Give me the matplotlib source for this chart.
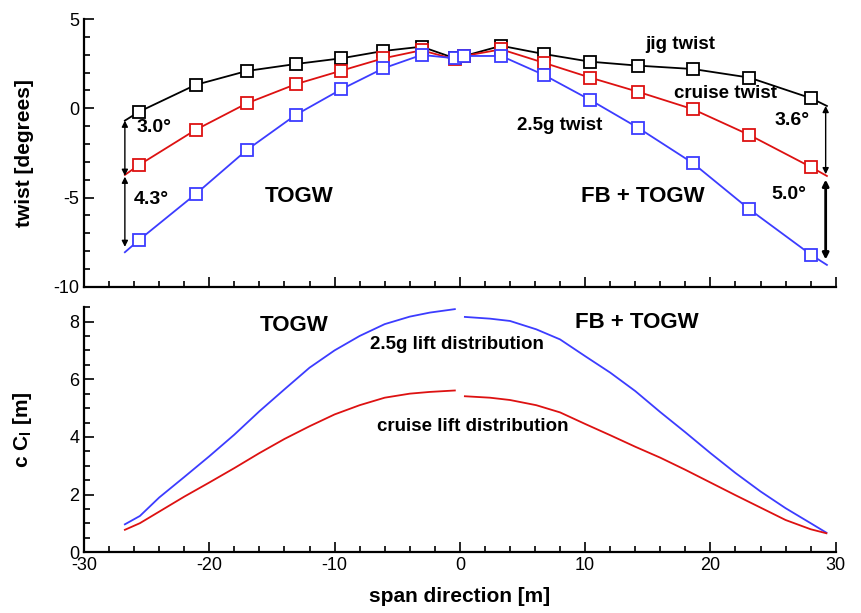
"""
Twist and lift distributions along the span (TOGW vs FB + TOGW).
"""

import numpy as np
import matplotlib.pyplot as plt
from matplotlib.ticker import MultipleLocator

plt.rcParams['font.family'] = ['Liberation Sans', 'DejaVu Sans']
plt.rcParams['axes.unicode_minus'] = False

# Twist at the stations (degrees), left wing = TOGW, right wing = FB + TOGW
span_st = [-26.74, -25.6, -21.1, -17.0, -13.1, -9.45, -6.1, -3.05, -0.4, 0.35,
           3.3, 6.7, 10.4, 14.2, 18.6, 23.1, 28.05, 29.3]
jig_twist = [-0.69, -0.19, 1.31, 2.09, 2.48, 2.80, 3.21, 3.45, 2.80, 2.93,
             3.50, 3.04, 2.61, 2.39, 2.20, 1.72, 0.56, 0.13]
cruise_twist = [-3.73, -3.17, -1.21, 0.28, 1.35, 2.11, 2.80, 3.25, 2.74, 2.93,
                3.30, 2.55, 1.72, 0.93, -0.05, -1.49, -3.30, -3.79]
g25_twist = [-8.06, -7.37, -4.81, -2.33, -0.37, 1.07, 2.24, 2.99, 2.80, 2.93,
             2.93, 1.87, 0.47, -1.08, -3.07, -5.65, -8.21, -8.77]

# Span loading c*Cl [m], left and right halves
span_l = [-26.74, -25.54, -24.0, -22.0, -20.0, -18.0, -16.0, -14.0, -12.0, -10.0,
          -8.0, -6.0, -4.0, -2.4, -0.4]
lift25_l = [0.97, 1.26, 1.90, 2.61, 3.33, 4.08, 4.89, 5.65, 6.40, 7.00,
            7.50, 7.91, 8.17, 8.31, 8.43]
cruise_l = [0.78, 1.01, 1.41, 1.93, 2.42, 2.92, 3.44, 3.93, 4.37, 4.78,
            5.10, 5.36, 5.50, 5.56, 5.61]
span_r = [0.4, 2.4, 4.0, 6.1, 8.0, 10.0, 12.0, 14.0, 16.0, 18.0, 20.0, 22.0,
          24.0, 26.0, 28.0, 29.26]
lift25_r = [8.16, 8.10, 8.02, 7.73, 7.38, 6.80, 6.23, 5.59, 4.86, 4.16, 3.44,
            2.75, 2.11, 1.53, 1.01, 0.68]
cruise_r = [5.41, 5.36, 5.28, 5.10, 4.85, 4.45, 4.06, 3.66, 3.28, 2.86, 2.42,
            1.98, 1.55, 1.12, 0.80, 0.66]

RED = '#dd1111'
BLUE = '#3c3cff'


def style_axis(ax, xmin, xmax, ymin, ymax, ymajor, yminor):
    for side in ['top', 'right']:
        ax.spines[side].set_visible(False)
    for side in ['left', 'bottom']:
        ax.spines[side].set_linewidth(1.6)
    ax.set_xlim(xmin, xmax)
    ax.set_ylim(ymin, ymax)
    ax.xaxis.set_major_locator(MultipleLocator(10))
    ax.xaxis.set_minor_locator(MultipleLocator(2))
    ax.yaxis.set_major_locator(MultipleLocator(ymajor))
    ax.yaxis.set_minor_locator(MultipleLocator(yminor))
    ax.tick_params(which='both', direction='in', labelsize=13, width=1.2)
    ax.tick_params(which='major', length=7)
    ax.tick_params(which='minor', length=4)


fig = plt.figure(figsize=(8.61, 6.13), dpi=100)
ax1 = fig.add_axes([0.0976, 0.532, 0.873, 0.437])
ax2 = fig.add_axes([0.0976, 0.099, 0.873, 0.40])

# Top panel: twist
n = len(span_st)
mk = list(range(1, n - 1))
for vals, col in [(jig_twist, 'black'), (cruise_twist, RED), (g25_twist, BLUE)]:
    ax1.plot(span_st, vals, color=col, lw=1.3, marker='s', markevery=mk,
             ms=8.5, mfc='white', mec=col, mew=1.3)

style_axis(ax1, -30, 30, -10, 5, 5, 1)
ax1.tick_params(axis='x', labelbottom=False)
ax1.set_ylabel('twist [degrees]', fontsize=15, fontweight='bold')
ax1.yaxis.set_label_coords(-0.066, 0.5)

# Delta arrows at the wing tips
arrow = dict(arrowstyle='<|-|>', color='black', lw=1.0, mutation_scale=9,
             shrinkA=0, shrinkB=0)
ax1.annotate('', xy=(span_st[0], jig_twist[0]), xytext=(span_st[0], cruise_twist[0] - 0.05),
             arrowprops=arrow)
ax1.annotate('', xy=(span_st[0], cruise_twist[0] - 0.1), xytext=(span_st[0], g25_twist[0] + 0.3),
             arrowprops=arrow)
ax1.annotate('', xy=(span_st[-1] - 0.1, jig_twist[-1]), xytext=(span_st[-1] - 0.1, cruise_twist[-1] + 0.1),
             arrowprops=arrow)
ax1.annotate('', xy=(span_st[-1] - 0.1, cruise_twist[-1] - 0.2), xytext=(span_st[-1] - 0.1, g25_twist[-1] + 0.3),
             arrowprops=dict(arrow, lw=2.0))

lbl = dict(fontsize=14, fontweight='bold', ha='left', va='center')
ax1.text(-25.8, -1.05, '3.0\u00b0', **lbl)
ax1.text(-26.0, -5.1, '4.3\u00b0', **lbl)
ax1.text(25.1, -0.7, '3.6\u00b0', **lbl)
ax1.text(24.9, -4.8, '5.0\u00b0', **lbl)

ax1.text(-12.8, -4.95, 'TOGW', fontsize=16, fontweight='bold', ha='center', va='center')
ax1.text(14.6, -4.95, 'FB + TOGW', fontsize=16, fontweight='bold', ha='center', va='center')
ax1.text(17.6, 3.55, 'jig twist', fontsize=13.5, fontweight='bold', ha='center', va='center')
ax1.text(21.2, 0.85, 'cruise twist', fontsize=13.5, fontweight='bold', ha='center', va='center')
ax1.text(8.0, -0.95, '2.5g twist', fontsize=13.5, fontweight='bold', ha='center', va='center')

# Bottom panel: lift distribution
ax2.plot(span_l, lift25_l, color=BLUE, lw=1.3)
ax2.plot(span_r, lift25_r, color=BLUE, lw=1.3)
ax2.plot(span_l, cruise_l, color=RED, lw=1.3)
ax2.plot(span_r, cruise_r, color=RED, lw=1.3)

style_axis(ax2, -30, 30, 0, 8.5, 2, 0.5)
ax2.set_ylabel('c C$_\\mathregular{l}$ [m]', fontsize=15, fontweight='bold')
ax2.yaxis.set_label_coords(-0.066, 0.5)
ax2.set_xlabel('span direction [m]', fontsize=15, fontweight='bold', labelpad=9)

ax2.text(-13.2, 7.85, 'TOGW', fontsize=16, fontweight='bold', ha='center', va='center')
ax2.text(14.1, 7.95, 'FB + TOGW', fontsize=16, fontweight='bold', ha='center', va='center')
ax2.text(-0.2, 7.2, '2.5g lift distribution', fontsize=13.5, fontweight='bold', ha='center', va='center')
ax2.text(1.0, 4.35, 'cruise lift distribution', fontsize=13.5, fontweight='bold', ha='center', va='center')

plt.savefig('out.png', dpi=100)
